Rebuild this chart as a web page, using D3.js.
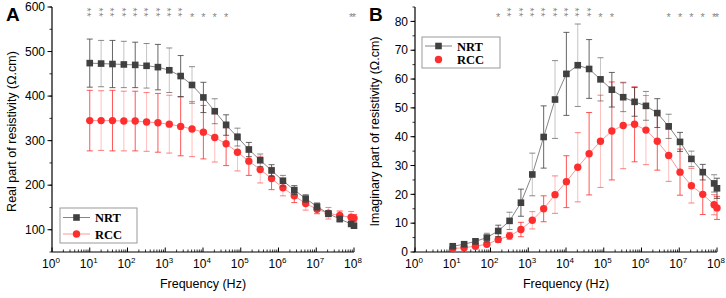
<!DOCTYPE html>
<html>
<head>
<meta charset="utf-8">
<script src="https://cdn.jsdelivr.net/npm/d3@7"></script>
<style>
  body { margin: 0; background: #fff; }
  svg { display: block; font-family: Arial, "Liberation Sans", sans-serif; }
</style>
</head>
<body>
<svg id="chart" width="726" height="298"></svg>
<script>
// frequencies (Hz)
const freqs = [10, 20, 40, 80, 160, 320, 640, 1280, 2560, 5120, 10240, 20480, 40960, 81920,
    163840, 327680, 655360, 1310720, 2621440, 5242880, 10485760, 20971520, 41943040, 83886080, 100000000];

// panel A: real part (Ω.cm)
const nrtReal = [474, 473, 472, 471, 470, 468, 465, 458, 445, 425, 397, 366, 335, 308, 280, 256, 233, 210, 189, 170, 152, 136, 124, 113, 109];
const nrtRealErr = [54, 52, 53, 52, 51, 50, 51, 50, 46, 41, 34, 28, 23, 20, 16, 14, 13, 12, 10, 9, 8, 7, 6, 5, 4];
const rccReal = [345, 345, 345, 344, 344, 342, 340, 337, 332, 326, 319, 307, 293, 274, 254, 235, 215, 194, 176, 159, 146, 137, 132, 128, 126];
const rccRealErr = [68, 67, 68, 67, 67, 66, 66, 65, 66, 62, 60, 55, 49, 42, 32, 30, 25, 18, 15, 15, 10, 13, 10, 13, 8];
const starsReal = [2, 2, 2, 2, 2, 2, 2, 2, 2, 1, 1, 1, 1, 0, 0, 0, 0, 0, 0, 0, 0, 0, 0, 1, 1];

// panel B: imaginary part (Ω.cm)
const nrtImag = [2.0, 2.7, 3.7, 5.0, 7.3, 10.8, 17.1, 26.9, 39.9, 52.9, 61.8, 64.8, 63.5, 59.9, 56.3, 53.7, 52.1, 50.7, 48.2, 43.6, 38.2, 32.3, 27.7, 23.8, 22.1];
const nrtImagErr = [0.7, 0.7, 0.8, 1.5, 2, 3, 4.7, 7.4, 10.8, 13.5, 14.4, 14.3, 10.2, 7.5, 6, 5, 5, 5, 5, 4.2, 3.3, 2.7, 2.7, 3, 3.5];
const rccImag = [1.2, 1.5, 2.0, 2.7, 4.3, 5.6, 7.8, 11.0, 15.0, 19.9, 24.4, 29.4, 34.1, 38.4, 42.0, 43.9, 44.3, 42.3, 38.4, 33.5, 27.7, 23.0, 20.0, 16.4, 15.3];
const rccImagErr = [0.5, 0.5, 0.6, 0.7, 1.0, 1.2, 2.5, 3, 4.5, 6.5, 9, 12, 14.3, 16, 17, 15, 13, 12, 10, 9, 8, 6, 7, 3.5, 4];
const starsImag = [0, 0, 0, 0, 1, 2, 2, 2, 2, 2, 2, 2, 2, 1, 1, 0, 0, 0, 0, 1, 1, 1, 1, 1, 1];

const realTicks = [100, 200, 300, 400, 500, 600];
const imagTicks = [0, 10, 20, 30, 40, 50, 60, 70, 80];
const xExponents = [0, 1, 2, 3, 4, 5, 6, 7, 8];

const svg = d3.select("#chart");
const grey = "#404040", red = "#ff2e2e";

function drawPanel(p) {
    const x = d3.scaleLog().domain([1, 1e8]).range([p.left, p.right]);
    const y = d3.scaleLinear().domain(p.yDomain).range([p.bottom, p.top]);
    const g = svg.append("g");

    // minor x ticks (inward) and major
    const minorX = [];
    for (let e = 0; e < 8; e++) for (let m = 2; m < 10; m++) minorX.push(m * Math.pow(10, e));
    g.selectAll(".mx").data(minorX).enter().append("line")
        .attr("x1", d => x(d)).attr("x2", d => x(d))
        .attr("y1", p.bottom).attr("y2", p.bottom - 2.5)
        .attr("stroke", "#000").attr("stroke-width", 0.8);
    g.selectAll(".Mx").data(xExponents).enter().append("line")
        .attr("x1", d => x(Math.pow(10, d))).attr("x2", d => x(Math.pow(10, d)))
        .attr("y1", p.bottom).attr("y2", p.bottom - 4.5)
        .attr("stroke", "#000").attr("stroke-width", 1);
    const xl = g.selectAll(".xl").data(xExponents).enter().append("text")
        .attr("x", d => x(Math.pow(10, d)) - 1).attr("y", 268)
        .attr("text-anchor", "middle").attr("font-size", 12);
    xl.append("tspan").text("10");
    xl.append("tspan").attr("dy", -5).attr("font-size", 8).text(d => d);

    // y ticks (outward)
    const minorY = [];
    for (let v = p.yDomain[0]; v <= p.yDomain[1]; v += p.minorStep) minorY.push(v);
    g.selectAll(".my").data(minorY).enter().append("line")
        .attr("x1", p.left).attr("x2", p.left - 2.5)
        .attr("y1", d => y(d)).attr("y2", d => y(d))
        .attr("stroke", "#000").attr("stroke-width", 0.8);
    g.selectAll(".My").data(p.yTicks).enter().append("line")
        .attr("x1", p.left).attr("x2", p.left - 4.5)
        .attr("y1", d => y(d)).attr("y2", d => y(d))
        .attr("stroke", "#000").attr("stroke-width", 1);
    g.selectAll(".yl").data(p.yTicks).enter().append("text")
        .attr("x", p.left - 7).attr("y", d => y(d) + 4.2)
        .attr("text-anchor", "end").attr("font-size", 12).text(d => d);

    // axis lines
    g.append("line").attr("x1", p.left).attr("x2", p.left).attr("y1", p.top).attr("y2", p.bottom)
        .attr("stroke", "#000").attr("stroke-width", 1.2);
    g.append("line").attr("x1", p.left).attr("x2", p.right).attr("y1", p.bottom).attr("y2", p.bottom)
        .attr("stroke", "#000").attr("stroke-width", 1.2);

    // titles
    g.append("text").attr("x", (p.left + p.right) / 2).attr("y", 288)
        .attr("text-anchor", "middle").attr("font-size", 12.5).text("Frequency (Hz)");
    g.append("text").attr("transform", `translate(${p.left - 36},${(p.top + p.bottom) / 2 + 2}) rotate(-90)`)
        .attr("text-anchor", "middle").attr("font-size", 12.5).text(p.yTitle);
    g.append("text").attr("x", p.left - 46).attr("y", 21)
        .attr("font-size", 19).attr("font-weight", "bold").text(p.letter);

    // series
    const series = [
        { vals: p.rcc, err: p.rccErr, color: red, lineColor: "#ff8a8a", shape: "circle" },
        { vals: p.nrt, err: p.nrtErr, color: grey, lineColor: "#777", shape: "square" }
    ];
    series.forEach(s => {
        const pts = freqs.map((f, i) => ({ f, v: s.vals[i], e: s.err[i], i }));
        const eb = g.append("g");
        pts.forEach(d => {
            const op = d.i % 2 === 0 ? 0.8 : 0.3;
            const cx = x(d.f), y1 = y(d.v + d.e), y2 = y(d.v - d.e);
            eb.append("line").attr("x1", cx).attr("x2", cx).attr("y1", y1).attr("y2", y2)
                .attr("stroke", s.color).attr("stroke-width", 1).attr("opacity", op);
            [y1, y2].forEach(yy => eb.append("line").attr("x1", cx - 3).attr("x2", cx + 3)
                .attr("y1", yy).attr("y2", yy).attr("stroke", s.color).attr("stroke-width", 1)
                .attr("opacity", Math.max(op, 0.6)));
        });
        g.append("path").datum(pts)
            .attr("d", d3.line().x(d => x(d.f)).y(d => y(d.v)))
            .attr("fill", "none").attr("stroke", s.lineColor).attr("stroke-width", 0.9);
        if (s.shape === "circle") {
            g.selectAll(null).data(pts).enter().append("circle")
                .attr("cx", d => x(d.f)).attr("cy", d => y(d.v)).attr("r", 3.7).attr("fill", s.color);
        } else {
            g.selectAll(null).data(pts).enter().append("rect")
                .attr("x", d => x(d.f) - 3.3).attr("y", d => y(d.v) - 3.3)
                .attr("width", 6.6).attr("height", 6.6).attr("fill", s.color);
        }
    });

    // significance stars: "**" is written as one text turned upright, so the two stars stack
    const fs = 11;
    freqs.forEach((f, i) => {
        const n = p.stars[i];
        if (!n) return;
        if (n === 2) {
            g.append("text").attr("transform", `translate(${x(f)},12.5) rotate(90)`)
                .attr("y", fs * 0.57).attr("text-anchor", "middle").attr("letter-spacing", 0.8)
                .attr("font-size", fs).attr("fill", "#888").text("**");
        } else {
            g.append("text").attr("x", x(f)).attr("y", 15 + fs * 0.57)
                .attr("text-anchor", "middle").attr("font-size", fs).attr("fill", "#888").text("*");
        }
    });

    // legend
    const lg = g.append("g");
    lg.append("rect").attr("x", p.leg.x).attr("y", p.leg.y).attr("width", p.leg.w).attr("height", p.leg.h)
        .attr("fill", "#fff").attr("stroke", "#999").attr("stroke-width", 1);
    const items = [
        { name: "NRT", color: grey, lineColor: "#777", shape: "square", line: true },
        { name: "RCC", color: red, lineColor: "#ff8a8a", shape: "circle", line: p.leg.rccLine }
    ];
    items.forEach((it, k) => {
        const cy = p.leg.y + p.leg.row0 + k * p.leg.dy, x0 = p.leg.x + 3;
        if (it.line) lg.append("line").attr("x1", x0).attr("x2", x0 + 27).attr("y1", cy).attr("y2", cy)
            .attr("stroke", it.lineColor).attr("stroke-width", 0.9);
        if (it.shape === "circle") lg.append("circle").attr("cx", x0 + 13.5).attr("cy", cy).attr("r", 3.7).attr("fill", it.color);
        else lg.append("rect").attr("x", x0 + 10.2).attr("y", cy - 3.3).attr("width", 6.6).attr("height", 6.6).attr("fill", it.color);
        lg.append("text").attr("x", x0 + 32).attr("y", cy + 4.5)
            .attr("font-family", "'Liberation Serif', 'Times New Roman', serif")
            .attr("font-weight", "bold").attr("font-size", 12.5).text(it.name);
    });
}

drawPanel({
    letter: "A", left: 52, right: 354, top: 7, bottom: 252,
    yDomain: [50, 600], yTicks: realTicks, minorStep: 50,
    yTitle: "Real part of resistivity (\u03A9.cm)",
    nrt: nrtReal, nrtErr: nrtRealErr, rcc: rccReal, rccErr: rccRealErr, stars: starsReal,
    leg: { x: 60, y: 208, w: 77, h: 35, row0: 9.5, dy: 16.5, rccLine: true }
});
drawPanel({
    letter: "B", left: 415, right: 717, top: 7, bottom: 252,
    yDomain: [0, 85], yTicks: imagTicks, minorStep: 5,
    yTitle: "Imaginary part of resistivity (\u03A9.cm)",
    nrt: nrtImag, nrtErr: nrtImagErr, rcc: rccImag, rccErr: rccImagErr, stars: starsImag,
    leg: { x: 422, y: 37, w: 78, h: 31, row0: 9, dy: 13.5, rccLine: false }
});
</script>
</body>
</html>
